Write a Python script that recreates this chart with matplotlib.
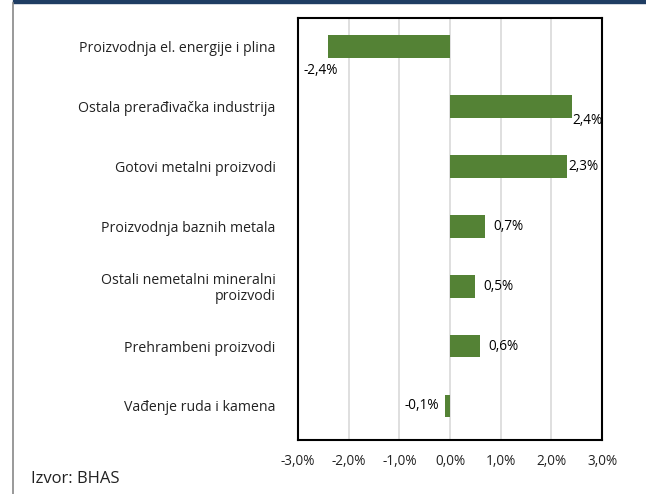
import numpy as np
import matplotlib.pyplot as plt
from matplotlib.patches import Rectangle
from matplotlib.lines import Line2D

plt.rcParams['font.family'] = ['Open Sans', 'DejaVu Sans']

categories = [
    'Proizvodnja el. energije i plina',
    'Ostala prerađivačka industrija',
    'Gotovi metalni proizvodi',
    'Proizvodnja baznih metala',
    'Ostali nemetalni mineralni\nproizvodi',
    'Prehrambeni proizvodi',
    'Vađenje ruda i kamena',
]
values = [-2.4, 2.4, 2.3, 0.7, 0.5, 0.6, -0.1]
labels = ['-2,4%', '2,4%', '2,3%', '0,7%', '0,5%', '0,6%', '-0,1%']
ticks = [-3, -2, -1, 0, 1, 2, 3]
tick_labels = ['-3,0%', '-2,0%', '-1,0%', '0,0%', '1,0%', '2,0%', '3,0%']

fig = plt.figure(figsize=(6.46, 4.94), dpi=100)
W, H = 646, 494
ax = fig.add_axes([298 / W, 1 - 440 / H, 304 / W, 422 / H])

y = np.arange(len(categories))
ax.barh(y, values, height=0.38, color='#548235', zorder=3)
ax.set_xlim(-3, 3)
ax.set_ylim(6.57, -0.48)
ax.set_xticks(ticks)
ax.set_xticklabels(tick_labels, fontsize=9.8, color='#222222')
ax.set_yticks(y)
ax.set_yticklabels(categories, fontsize=10.2, color='#222222', ha='right',
                   multialignment='right', linespacing=1.1)
ax.tick_params(axis='y', length=0, pad=16)
ax.tick_params(axis='x', length=0, pad=10)
ax.grid(axis='x', color='#dcdcdc', linewidth=1.3, zorder=0)
for s in ax.spines.values():
    s.set_color('black')
    s.set_linewidth(1.5)

# data labels (placed like excel's "outside end")
for i, (v, lab) in enumerate(zip(values, labels)):
    if i == 0:
        ax.text(v - 0.15, i + 0.27, lab, ha='center', va='top', fontsize=9.8)
    elif i == 1:
        ax.text(v + 0.01, i + 0.1, lab, ha='left', va='top', fontsize=9.8)
    elif i == 2:
        ax.text(v + 0.04, i, lab, ha='left', va='center', fontsize=9.8)
    elif v < 0:
        ax.text(v - 0.12, i, lab, ha='right', va='center', fontsize=9.8)
    else:
        ax.text(v + 0.16, i, lab, ha='left', va='center', fontsize=9.8)

# frame decorations
fig.patches.append(Rectangle((13 / W, 1 - 3.5 / H), 1 - 13 / W, 3.5 / H,
                             transform=fig.transFigure, color='#1f3d63'))
fig.lines.append(Line2D([13.5 / W, 13.5 / W], [0, 1 - 3.5 / H],
                        transform=fig.transFigure, color='#888888', linewidth=1.2))
fig.text(31 / W, 1 - 479 / H, 'Izvor: BHAS', fontsize=12, va='center', color='#222222')

fig.savefig('out.png', dpi=100)
